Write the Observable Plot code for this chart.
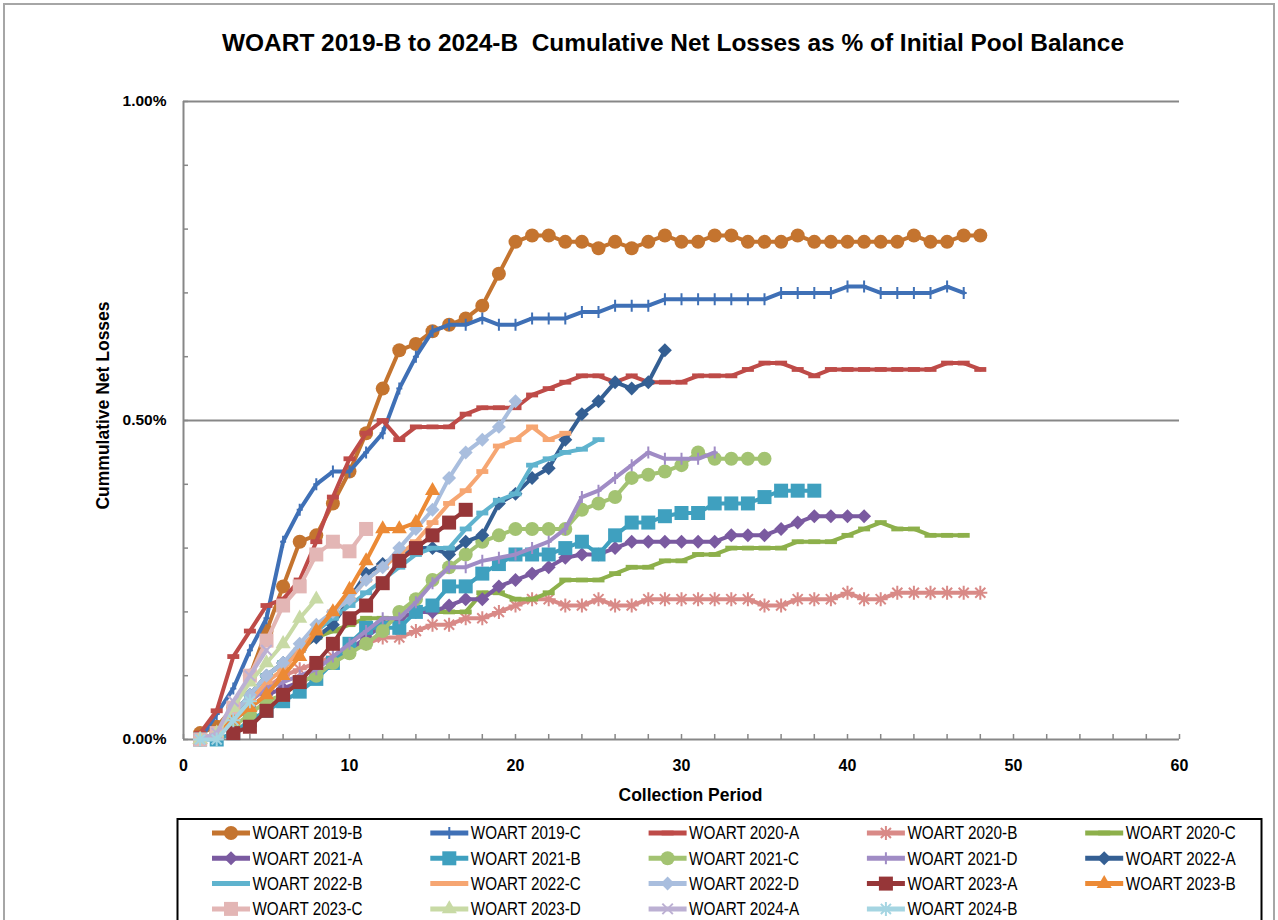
<!DOCTYPE html>
<html>
<head>
<meta charset="utf-8">
<script src="https://cdn.jsdelivr.net/npm/d3@7"></script>
<script src="https://cdn.jsdelivr.net/npm/@observablehq/plot@0.6"></script>
<style>
html, body { margin: 0; padding: 0; background: #fff; }
#wrap { position: relative; width: 1278px; height: 920px; overflow: hidden; background: #fff; }
#chart { position: absolute; left: 0; top: 0; }
#overlay { position: absolute; left: 0; top: 0; pointer-events: none; }
</style>
</head>
<body>
<div id="wrap"><div id="chart"></div><svg id="overlay" width="1278" height="920"></svg></div>
<script>
// ---------------- DATA ----------------
const chartTitle = "WOART 2019-B to 2024-B  Cumulative Net Losses as % of Initial Pool Balance";
const yAxisTitle = "Cummulative Net Losses";
const xAxisTitle = "Collection Period";

const seriesNames = [
  "WOART 2019-B", "WOART 2019-C", "WOART 2020-A", "WOART 2020-B", "WOART 2020-C",
  "WOART 2021-A", "WOART 2021-B", "WOART 2021-C", "WOART 2021-D", "WOART 2022-A",
  "WOART 2022-B", "WOART 2022-C", "WOART 2022-D", "WOART 2023-A", "WOART 2023-B",
  "WOART 2023-C", "WOART 2023-D", "WOART 2024-A", "WOART 2024-B"
];
// first collection period of each series
const seriesStart = [1,1,1,1,1, 1,1,1,1,1, 1,1,1,3,1, 1,1,1,1];

// cumulative net losses, % of initial pool balance, one value per collection period
const woart2019B = [0.01,0.02,0.05,0.10,0.17,0.24,0.31,0.32,0.37,0.42,0.48,0.55,0.61,0.62,0.64,0.65,0.66,0.68,0.73,0.78,
  0.79,0.79,0.78,0.78,0.77,0.78,0.77,0.78,0.79,0.78,0.78,0.79,0.79,0.78,0.78,0.78,0.79,0.78,0.78,0.78,
  0.78,0.78,0.78,0.79,0.78,0.78,0.79,0.79];
const woart2019C = [0.00,0.04,0.08,0.14,0.19,0.31,0.36,0.40,0.42,0.42,0.45,0.48,0.55,0.60,0.64,0.65,0.65,0.66,0.65,0.65,
  0.66,0.66,0.66,0.67,0.67,0.68,0.68,0.68,0.69,0.69,0.69,0.69,0.69,0.69,0.69,0.70,0.70,0.70,0.70,0.71,
  0.71,0.70,0.70,0.70,0.70,0.71,0.70];
const woart2020A = [0.01,0.045,0.13,0.17,0.21,0.22,0.25,0.31,0.38,0.44,0.48,0.50,0.47,0.49,0.49,0.49,0.51,0.52,0.52,0.52,
  0.54,0.55,0.56,0.57,0.57,0.56,0.57,0.56,0.56,0.56,0.57,0.57,0.57,0.58,0.59,0.59,0.58,0.57,0.58,0.58,
  0.58,0.58,0.58,0.58,0.58,0.59,0.59,0.58];
const woart2020B = [0.00,0.01,0.04,0.06,0.08,0.10,0.11,0.12,0.13,0.14,0.15,0.16,0.16,0.17,0.18,0.18,0.19,0.19,0.20,0.21,
  0.22,0.22,0.21,0.21,0.22,0.21,0.21,0.22,0.22,0.22,0.22,0.22,0.22,0.22,0.21,0.21,0.22,0.22,0.22,0.23,
  0.22,0.22,0.23,0.23,0.23,0.23,0.23,0.23];
const woart2020C = [0.00,0.01,0.04,0.07,0.10,0.12,0.14,0.16,0.17,0.18,0.19,0.19,0.19,0.20,0.20,0.20,0.20,0.23,0.23,0.22,
  0.22,0.23,0.25,0.25,0.25,0.26,0.27,0.27,0.28,0.28,0.29,0.29,0.30,0.30,0.30,0.30,0.31,0.31,0.31,0.32,
  0.33,0.34,0.33,0.33,0.32,0.32,0.32];
const woart2021A = [0.00,0.01,0.03,0.05,0.07,0.08,0.09,0.10,0.12,0.14,0.16,0.18,0.19,0.20,0.20,0.21,0.22,0.22,0.24,0.25,
  0.26,0.27,0.285,0.29,0.29,0.30,0.31,0.31,0.31,0.31,0.31,0.31,0.32,0.32,0.32,0.33,0.34,0.35,0.35,0.35,0.35];
const woart2021B = [0.00,0.00,0.01,0.03,0.045,0.06,0.075,0.095,0.12,0.15,0.175,0.175,0.175,0.20,0.21,0.24,0.24,0.26,0.275,0.29,
  0.29,0.29,0.30,0.31,0.29,0.32,0.34,0.34,0.35,0.355,0.355,0.37,0.37,0.37,0.38,0.39,0.39,0.39];
const woart2021C = [0.00,0.01,0.02,0.04,0.06,0.07,0.09,0.10,0.12,0.135,0.15,0.17,0.20,0.22,0.25,0.27,0.29,0.31,0.32,0.33,
  0.33,0.33,0.33,0.36,0.37,0.38,0.41,0.415,0.42,0.43,0.45,0.44,0.44,0.44,0.44];
const woart2021D = [0.00,0.01,0.04,0.06,0.08,0.09,0.10,0.11,0.13,0.15,0.17,0.19,0.19,0.215,0.245,0.27,0.27,0.28,0.285,0.29,
  0.30,0.31,0.33,0.38,0.39,0.41,0.43,0.45,0.44,0.44,0.44,0.45];
const woart2022A = [0.00,0.01,0.04,0.07,0.10,0.12,0.14,0.16,0.18,0.22,0.26,0.275,0.29,0.30,0.30,0.29,0.31,0.32,0.37,0.385,
  0.41,0.425,0.47,0.51,0.53,0.56,0.55,0.56,0.61];
const woart2022B = [0.00,0.01,0.04,0.07,0.10,0.12,0.14,0.17,0.19,0.21,0.23,0.25,0.27,0.29,0.30,0.30,0.33,0.355,0.375,0.385,
  0.43,0.44,0.45,0.455,0.47];
const woart2022C = [0.00,0.01,0.03,0.06,0.09,0.11,0.14,0.17,0.20,0.22,0.25,0.27,0.29,0.31,0.34,0.37,0.39,0.42,0.46,0.47,
  0.49,0.47,0.48];
const woart2022D = [0.00,0.01,0.04,0.07,0.10,0.12,0.15,0.18,0.20,0.22,0.25,0.27,0.30,0.33,0.36,0.41,0.45,0.47,0.49,0.53];
const woart2023A = [0.01,0.02,0.045,0.07,0.09,0.12,0.15,0.19,0.21,0.245,0.28,0.30,0.32,0.34,0.36];
const woart2023B = [0.00,0.01,0.03,0.05,0.07,0.10,0.13,0.17,0.20,0.235,0.28,0.33,0.33,0.34,0.39];
const woart2023C = [0.00,0.01,0.05,0.10,0.155,0.21,0.24,0.29,0.31,0.295,0.33];
const woart2023D = [0.00,0.01,0.05,0.09,0.12,0.15,0.19,0.22];
const woart2024A = [0.00,0.01,0.06,0.10,0.14];
const woart2024B = [0.00,0.00,0.03,0.06];

const seriesValues = [
  woart2019B, woart2019C, woart2020A, woart2020B, woart2020C,
  woart2021A, woart2021B, woart2021C, woart2021D, woart2022A,
  woart2022B, woart2022C, woart2022D, woart2023A, woart2023B,
  woart2023C, woart2023D, woart2024A, woart2024B
];

const xTicks = [0, 10, 20, 30, 40, 50, 60];
const xMinorTicks = [0,2,4,6,8,10,12,14,16,18,20,22,24,26,28,30,32,34,36,38,40,42,44,46,48,50,52,54,56,58,60];
const yTicks = [0, 0.5, 1.0];
const yTickLabels = ["0.00%", "0.50%", "1.00%"];
const yMinorTicks = [0,0.1,0.2,0.3,0.4,0.5,0.6,0.7,0.8,0.9,1.0];

// ---------------- STYLES ----------------
const seriesColors = [
  "#C4742F", "#3F70B6", "#BE4B48", "#D98A87", "#8DB04B",
  "#7A5AA0", "#3FA0BF", "#A3C372", "#A08CC5", "#345F93",
  "#5FB3CE", "#F6A672", "#A9BEDE", "#963638", "#EC8A35",
  "#E3B6B5", "#C8DAA5", "#BCB0D3", "#A5D5E2"
];
const vPlus = { draw(ctx, size) { const r = Math.sqrt(size / Math.PI); ctx.moveTo(0, -r); ctx.lineTo(0, r); ctx.moveTo(-r * 0.5, 0); ctx.lineTo(r * 0.5, 0); } };
const dash = { draw(ctx, size) { const r = Math.sqrt(size / Math.PI); ctx.rect(-r, -r * 0.4, 2 * r, r * 0.8); } };
const star = { draw(ctx, size) { const r = Math.sqrt(size / Math.PI); const a = r * 0.72;
  ctx.moveTo(0, -r); ctx.lineTo(0, r); ctx.moveTo(-a, -a); ctx.lineTo(a, a); ctx.moveTo(-a, a); ctx.lineTo(a, -a); ctx.moveTo(-r, 0); ctx.lineTo(r, 0); } };
const cross = { draw(ctx, size) { const r = Math.sqrt(size / Math.PI) * 0.75;
  ctx.moveTo(-r, -r); ctx.lineTo(r, r); ctx.moveTo(-r, r); ctx.lineTo(r, -r); } };
const M = {
  circle:  { type: d3.symbolCircle,   r: 7,   filled: true },
  plus:    { type: vPlus,             r: 6,   filled: false },
  dash:    { type: dash,              r: 6,   filled: true },
  star:    { type: star,              r: 7,   filled: false },
  diamond: { type: d3.symbolDiamond2, r: 6.3, filled: true },
  square:  { type: d3.symbolSquare,   r: 7.9, filled: true },
  tri:     { type: d3.symbolTriangle, r: 5.6, filled: true },
  cross:   { type: cross,             r: 7,   filled: false }
};
const seriesMarkers = [
  "circle", "plus", "dash", "star", "dash",
  "diamond", "square", "circle", "plus", "diamond",
  "dash", "dash", "diamond", "square", "tri",
  "square", "tri", "cross", "star"
];
const FONT = '"Liberation Sans", Arial, Helvetica, sans-serif';
const AXIS_GREY = "#878787";

// ---------------- TABLE ----------------
const rows = seriesNames.flatMap((name, i) =>
  seriesValues[i].map((v, j) => ({ series: name, period: seriesStart[i] + j, value: v })));

const seriesMarks = seriesNames.flatMap((name, i) => {
  const m = M[seriesMarkers[i]];
  const c = seriesColors[i];
  return [
    Plot.line(rows, { filter: d => d.series === name, x: "period", y: "value", stroke: c, strokeWidth: 4, strokeLinejoin: "round" }),
    Plot.dot(rows, { filter: d => d.series === name, x: "period", y: "value", symbol: m.type, r: m.r,
      fill: m.filled ? c : "none", stroke: m.filled ? "none" : c, strokeWidth: 2 })
  ];
});

const chart = Plot.plot({
  width: 1278,
  height: 810,
  marginLeft: 183,
  marginRight: 99,
  marginTop: 101,
  marginBottom: 71,
  style: { fontFamily: FONT, background: "transparent", overflow: "visible", color: "#000" },
  x: { domain: [0, 60] },
  y: { domain: [0, 1.0] },
  marks: [
    Plot.ruleY([0.5, 1.0], { stroke: AXIS_GREY, strokeWidth: 2 }),
    Plot.axisY(yMinorTicks, { tickSize: -5, tickFormat: () => "", label: null, stroke: AXIS_GREY, strokeWidth: 1.5 }),
    Plot.axisY(yTicks, { tickSize: 0, tickPadding: 17, tickFormat: (d) => yTickLabels[yTicks.indexOf(d)], label: null,
      fontSize: 15.5, fontWeight: "bold", fill: "#000" }),
    Plot.axisX(xMinorTicks, { tickSize: -5, tickFormat: () => "", label: null, stroke: AXIS_GREY, strokeWidth: 1.5 }),
    Plot.axisX(xTicks, { tickSize: 0, tickPadding: 20, label: null, fontSize: 16, fontWeight: "bold", fill: "#000" }),
    Plot.ruleX([0], { stroke: AXIS_GREY, strokeWidth: 2 }),
    Plot.ruleY([0], { stroke: AXIS_GREY, strokeWidth: 2 }),
    Plot.text([yAxisTitle], { frameAnchor: "left", textAnchor: "middle", dx: -80, dy: -15, rotate: -90, fontSize: 17.5, fontWeight: "bold", fill: "#000" }),
    Plot.text([xAxisTitle], { frameAnchor: "bottom", textAnchor: "middle", lineAnchor: "middle", dx: 9, dy: 56, fontSize: 17.5, fontWeight: "bold", fill: "#000" }),
    ...seriesMarks
  ]
});
document.getElementById("chart").appendChild(chart);

// ---------------- TITLE, BORDER, LEGEND ----------------
const ov = d3.select("#overlay");
ov.append("rect").attr("x", 4).attr("y", 4).attr("width", 1270).attr("height", 1000)
  .attr("fill", "none").attr("stroke", "#a6a6a6").attr("stroke-width", 2);
ov.append("text").attr("x", 673).attr("y", 50.5).attr("text-anchor", "middle")
  .attr("font-family", FONT).attr("font-size", 24.5).attr("font-weight", "bold").attr("fill", "#000")
  .attr("xml:space", "preserve").style("white-space", "pre")
  .attr("textLength", 902).attr("lengthAdjust", "spacingAndGlyphs").text(chartTitle);

ov.append("rect").attr("x", 177.5).attr("y", 819).attr("width", 1084).attr("height", 200)
  .attr("fill", "none").attr("stroke", "#000").attr("stroke-width", 2);
seriesNames.forEach((name, i) => {
  const row = Math.floor(i / 5), col = i % 5;
  const cy = 833 + row * 25.3;
  const x0 = 212 + col * 218.3;
  const g = ov.append("g");
  const c = seriesColors[i];
  const m = M[seriesMarkers[i]];
  g.append("line").attr("x1", x0).attr("x2", x0 + 38).attr("y1", cy).attr("y2", cy)
    .attr("stroke", c).attr("stroke-width", 5);
  g.append("path").attr("transform", `translate(${x0 + 19},${cy})`)
    .attr("d", d3.symbol().type(m.type).size(Math.PI * m.r * m.r)())
    .attr("fill", m.filled ? c : "none").attr("stroke", m.filled ? "none" : c).attr("stroke-width", 2);
  g.append("text").attr("x", x0 + 40.5).attr("y", cy + 6.3)
    .attr("font-family", FONT).attr("font-size", 17.5).attr("fill", "#000")
    .attr("textLength", 110).attr("lengthAdjust", "spacingAndGlyphs").text(name);
});
</script>
</body>
</html>
